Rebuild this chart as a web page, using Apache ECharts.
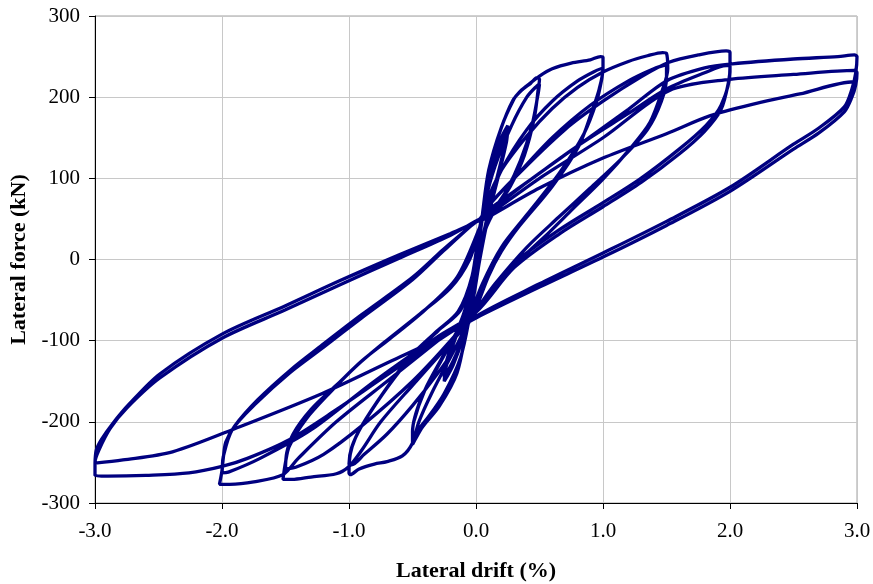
<!DOCTYPE html>
<html>
<head>
<meta charset="utf-8">
<title>Lateral force vs lateral drift</title>
<script src="https://cdn.jsdelivr.net/npm/echarts@6/dist/echarts.min.js"></script>
<style>
  html, body { margin: 0; padding: 0; background: #fff; }
  #chart { width: 873px; height: 584px; }
</style>
</head>
<body>
<div id="chart"></div>
<script>
// drift (%) / force (kN) pairs, one array per cycle
const cycle025a = [[0, 0], [0.05, 50], [0.12, 110], [0.2, 150], [0.25, 165], [0.24, 150], [0.18, 110], [0.1, 60], [0.03, 10], [-0.03, -50], [-0.1, -95], [-0.18, -130], [-0.25, -150], [-0.24, -135], [-0.18, -105], [-0.1, -70], [-0.03, -30], [0.02, 20]]
const cycle025b = [[0.05, 50], [0.12, 105], [0.2, 145], [0.25, 160], [0.24, 145], [0.18, 105], [0.1, 55], [0.03, 0], [-0.03, -55], [-0.1, -95], [-0.18, -125], [-0.25, -145], [-0.24, -130], [-0.18, -100], [-0.1, -68], [-0.03, -30], [0.02, 20]]

const cycle05a = [[0.05, 55], [0.1, 108], [0.19, 158], [0.29, 196], [0.37, 210], [0.43, 217], [0.48, 224], [0.5, 222],
  [0.49, 210], [0.46, 175], [0.38, 128], [0.27, 90], [0.16, 64], [0.07, 35], [0.02, 0], [-0.03, -50], [-0.07, -82], [-0.15, -140], [-0.29, -181], [-0.42, -206], [-0.48, -222], [-0.5, -228],
  [-0.5, -212], [-0.43, -170], [-0.3, -132], [-0.16, -92], [-0.06, -62], [0, -20], [0.04, 40]]
const cycle05b = [[0.07, 70], [0.15, 115], [0.28, 165], [0.4, 200], [0.48, 214], [0.5, 216],
  [0.49, 205], [0.44, 165], [0.35, 122], [0.24, 85], [0.13, 58], [0.05, 25], [0, -20], [-0.05, -70], [-0.12, -120], [-0.25, -165], [-0.38, -195], [-0.47, -212], [-0.5, -218],
  [-0.49, -200], [-0.4, -160], [-0.27, -122], [-0.14, -86], [-0.05, -58], [0, -10], [0.04, 40]]

const cycle10a = [[0.05, 55], [0.1, 110], [0.2, 163], [0.3, 198], [0.34, 206], [0.4, 214], [0.5, 226], [0.6, 235], [0.75, 242], [0.9, 246], [0.98, 250], [1.0, 249],
  [1.0, 235], [0.97, 210], [0.92, 186], [0.81, 140], [0.6, 90], [0.34, 41], [0.2, 10], [0.1, -20], [0, -60], [-0.07, -82], [-0.2, -120], [-0.35, -165], [-0.45, -200], [-0.5, -226], [-0.58, -242], [-0.7, -249], [-0.8, -252], [-0.92, -258], [-0.99, -265], [-1.0, -263],
  [-0.99, -240], [-0.95, -220], [-0.88, -200], [-0.7, -158], [-0.5, -118], [-0.3, -88], [-0.12, -62], [-0.03, -20], [0.03, 40]]
const cycle10b = [[0.07, 60], [0.2, 110], [0.4, 160], [0.6, 195], [0.8, 220], [0.95, 233], [1.0, 236],
  [0.99, 222], [0.95, 195], [0.85, 155], [0.65, 105], [0.4, 55], [0.2, 15], [0.05, -30], [-0.05, -70], [-0.15, -105], [-0.3, -140], [-0.5, -180], [-0.7, -215], [-0.88, -240], [-0.98, -253], [-1.0, -252],
  [-0.98, -232], [-0.9, -205], [-0.72, -162], [-0.52, -120], [-0.32, -90], [-0.14, -64], [-0.03, -20], [0.03, 40]]

const cycle15a = [[0.07, 65], [0.2, 110], [0.4, 152], [0.6, 186], [0.8, 212], [1.0, 231], [1.2, 244], [1.35, 251], [1.47, 255], [1.5, 254],
  [1.51, 235], [1.47, 210], [1.37, 169], [1.21, 136], [1.0, 99], [0.76, 62], [0.58, 34], [0.35, 0], [0.15, -35], [0, -65], [-0.1, -85], [-0.3, -120], [-0.5, -155], [-0.75, -200], [-0.9, -235], [-1.0, -255], [-1.1, -264], [-1.3, -268], [-1.45, -271], [-1.52, -271],
  [-1.5, -250], [-1.47, -230], [-1.34, -197], [-1.15, -164], [-0.94, -131], [-0.73, -103], [-0.45, -68], [-0.2, -35], [-0.05, 0], [0.03, 40]]
const cycle15b = [[0.07, 60], [0.3, 100], [0.6, 150], [0.9, 190], [1.2, 220], [1.4, 235], [1.5, 240],
  [1.5, 225], [1.46, 195], [1.35, 160], [1.15, 125], [0.9, 88], [0.65, 52], [0.4, 15], [0.15, -30], [0, -62], [-0.2, -100], [-0.5, -150], [-0.9, -205], [-1.2, -240], [-1.42, -256], [-1.5, -258],
  [-1.49, -238], [-1.44, -215], [-1.3, -185], [-1.1, -155], [-0.9, -125], [-0.68, -98], [-0.4, -62], [-0.15, -22], [0.03, 40]]

const cycle20a = [[0.07, 60], [0.3, 100], [0.7, 160], [1.0, 195], [1.3, 225], [1.52, 243], [1.75, 252], [1.97, 257], [2.0, 255],
  [2.0, 231], [1.93, 190], [1.81, 165], [1.6, 136], [1.29, 99], [1.0, 70], [0.66, 37], [0.3, -5], [0, -62], [-0.3, -100], [-0.7, -150], [-1.1, -200], [-1.4, -245], [-1.52, -265], [-1.75, -274], [-1.94, -277], [-2.02, -277],
  [-2.0, -260], [-1.99, -243], [-1.92, -210], [-1.73, -177], [-1.47, -140], [-1.2, -108], [-0.9, -72], [-0.5, -25], [-0.26, 10], [-0.05, 40], [0.03, 50]]
const cycle20b = [[0.07, 58], [0.4, 95], [0.8, 140], [1.2, 180], [1.5, 210], [1.8, 230], [1.97, 239], [2.0, 238],
  [1.99, 220], [1.93, 185], [1.8, 158], [1.6, 130], [1.3, 95], [1.0, 65], [0.66, 32], [0.3, -10], [0, -65], [-0.3, -95], [-0.8, -150], [-1.3, -210], [-1.7, -245], [-1.95, -262], [-2.0, -263],
  [-1.99, -245], [-1.97, -225], [-1.9, -205], [-1.72, -173], [-1.46, -136], [-1.2, -104], [-0.9, -68], [-0.5, -22], [-0.26, 12], [-0.05, 40], [0.03, 50]]

const cycle30a = [[0.07, 55], [0.4, 95], [0.8, 140], [1.2, 185], [1.5, 220], [1.8, 236], [2.02, 241], [2.5, 247], [2.85, 250], [2.98, 252], [3.0, 250],
  [2.99, 230], [2.96, 210], [2.9, 188], [2.7, 162], [2.5, 142], [2.0, 89], [1.5, 47], [1.0, 8], [0.5, -30], [0, -70], [-0.68, -140], [-1.1, -185], [-1.47, -222], [-1.8, -245], [-2.0, -255], [-2.26, -263], [-2.6, -266], [-2.9, -267], [-3.0, -266],
  [-3.0, -250], [-2.97, -235], [-2.88, -208], [-2.75, -183], [-2.49, -146], [-2.0, -97], [-1.5, -62], [-1.07, -31], [-0.6, 2], [-0.2, 30], [0.03, 50]]
const cycle30b = [[0.07, 52], [0.5, 100], [1.0, 150], [1.52, 208], [2.0, 222], [2.5, 228], [2.98, 233], [3.0, 230],
  [2.99, 215], [2.96, 200], [2.9, 182], [2.7, 156], [2.5, 136], [2.0, 84], [1.5, 42], [1.0, 3], [0.5, -34], [0, -72], [-0.3, -98], [-0.68, -126], [-1.21, -165], [-1.86, -206], [-2.39, -237], [-2.78, -247], [-3.0, -251],
  [-2.99, -235], [-2.95, -222], [-2.86, -202], [-2.73, -178], [-2.49, -141], [-2.0, -92], [-1.5, -57], [-1.07, -26], [-0.6, 6], [-0.2, 32], [0.03, 48]]
const finalLoad = [[0.07, 50], [0.5, 88], [1.0, 125], [1.5, 155], [1.84, 177], [2.2, 192], [2.55, 204], [2.98, 219], [3.0, 218]]

const driftTicks = [-3, -2, -1, 0, 1, 2, 3]
const forceTicks = [-300, -200, -100, 0, 100, 200, 300]

const cycles = [cycle025a, cycle025b, cycle05a, cycle05b, cycle10a, cycle10b,
  cycle15a, cycle15b, cycle20a, cycle20b, cycle30a, cycle30b, finalLoad]
const history = [].concat(...cycles)

const serif = "'Liberation Serif', 'Times New Roman', serif"

const chart = echarts.init(document.getElementById('chart'), null, { renderer: 'canvas' })
chart.setOption({
  backgroundColor: '#fff',
  animation: false,
  grid: {
    left: 95,
    right: 16,
    top: 16,
    bottom: 81,
    outerBoundsMode: 'none',
    show: true,
    borderColor: '#a0a0a0',
    borderWidth: 1
  },
  xAxis: {
    type: 'value',
    min: driftTicks[0],
    max: driftTicks[driftTicks.length - 1],
    interval: 1,
    name: 'Lateral drift (%)',
    nameLocation: 'middle',
    nameGap: 57,
    nameTextStyle: { fontFamily: serif, fontSize: 22, fontWeight: 'bold', color: '#000' },
    axisLine: { onZero: false, lineStyle: { color: '#000', width: 1 } },
    axisTick: { show: true, length: 6, lineStyle: { color: '#000' } },
    axisLabel: {
      margin: 18,
      fontFamily: serif,
      fontSize: 21,
      color: '#000',
      formatter: v => v.toFixed(1)
    },
    splitLine: { show: true, lineStyle: { color: '#c8c8c8', width: 1 } }
  },
  yAxis: {
    type: 'value',
    min: forceTicks[0],
    max: forceTicks[forceTicks.length - 1],
    interval: 100,
    name: 'Lateral force (kN)',
    nameLocation: 'middle',
    nameGap: 64,
    nameTextStyle: { fontFamily: serif, fontSize: 22, fontWeight: 'bold', color: '#000' },
    axisLine: { onZero: false, lineStyle: { color: '#000', width: 1 } },
    axisTick: { show: true, length: 6, lineStyle: { color: '#000' } },
    axisLabel: { margin: 15, fontFamily: serif, fontSize: 21, color: '#000' },
    splitLine: { show: true, lineStyle: { color: '#c8c8c8', width: 1 } }
  },
  series: [
    {
      type: 'line',
      data: history,
      smooth: 0.3,
      showSymbol: false,
      lineStyle: { color: '#000080', width: 3.3 },
      clip: true
    }
  ]
})
</script>
</body>
</html>
